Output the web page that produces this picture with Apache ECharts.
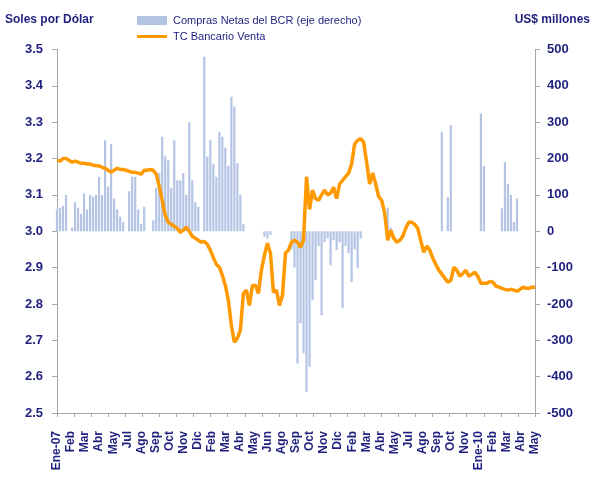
<!DOCTYPE html>
<html><head><meta charset="utf-8">
<script src="https://cdn.jsdelivr.net/npm/echarts@6/dist/echarts.min.js"></script>
<style>html,body{margin:0;padding:0;background:#fff}#c{width:597px;height:479px}</style>
</head><body><div id="c"></div>
<script>
// Month tick labels along the bottom axis
const monthLabels = ['Ene-07','Feb','Mar','Abr','May','Jul','Ago','Sep','Oct','Nov','Dic','Feb','Mar','Abr','May','Jun','Ago','Sep','Oct','Nov','Dic','Feb','Mar','Abr','May','Jul','Ago','Sep','Oct','Nov','Ene-10','Feb','Mar','Abr','May'];

// TC Bancario Venta (Soles por Dólar), roughly weekly readings
const rate = [
3.195,3.193,3.200,3.200,3.195,3.190,3.193,3.190,3.187,3.187,
3.185,3.185,3.182,3.180,3.180,3.176,3.173,3.168,3.162,3.168,
3.173,3.170,3.170,3.168,3.165,3.162,3.162,3.160,3.157,3.168,
3.168,3.170,3.168,3.157,3.124,3.085,3.044,3.025,3.019,3.014,
3.008,2.997,3.003,3.011,3.000,2.986,2.981,2.975,2.970,2.972,
2.964,2.948,2.928,2.909,2.901,2.879,2.851,2.810,2.741,2.695,
2.706,2.728,2.829,2.838,2.796,2.851,2.851,2.829,2.893,2.934,
2.967,2.940,2.832,2.838,2.796,2.824,2.940,2.948,2.970,2.975,
2.970,2.956,2.975,3.150,3.060,3.113,3.090,3.085,3.100,3.113,
3.100,3.105,3.121,3.090,3.130,3.140,3.150,3.160,3.185,3.240,
3.250,3.255,3.245,3.190,3.130,3.160,3.130,3.095,3.085,3.050,
2.975,3.003,2.981,2.970,2.975,2.986,3.008,3.025,3.025,3.019,
3.008,2.975,2.942,2.959,2.948,2.926,2.909,2.893,2.882,2.871,
2.860,2.865,2.901,2.893,2.876,2.884,2.893,2.876,2.882,2.887,
2.876,2.857,2.857,2.857,2.862,2.860,2.849,2.846,2.843,2.840,
2.838,2.840,2.838,2.835,2.840,2.846,2.843,2.843,2.846,2.846
];

// Compras Netas del BCR (US$ millones, eje derecho)
const purchases = [
60,65,70,100,0,10,80,65,48,104,
60,100,95,100,150,100,250,123,240,90,
60,40,25,0,110,150,150,60,20,67,
0,0,30,120,160,260,206,195,120,250,
140,140,160,100,300,140,80,67,0,480,
205,250,186,150,273,260,230,180,370,343,
187,100,20,0,0,0,0,0,0,-15,
-20,-10,0,0,0,0,0,0,-50,-100,
-364,-253,-336,-442,-373,-190,-135,-40,-231,-30,
-20,-94,-25,-52,-30,-212,-40,-60,-140,-50,
-102,-20,0,0,0,0,0,0,0,0,
65,10,0,0,0,0,0,0,0,0,
0,0,0,0,0,0,0,0,273,0,
94,292,0,0,0,0,0,0,0,0,
0,324,180,0,0,0,0,0,63,190,
130,100,25,90,0,0,0,0,0,0
];

const tickCount = 29;

const navy = '#1F1F7F';
const axisGray = '#A6A6A6';
const font = 'Liberation Sans, Arial, sans-serif';

const chart = echarts.init(document.getElementById('c'), null, {renderer: 'canvas'});
chart.setOption({
  animation: false,
  backgroundColor: '#fff',
  textStyle: {fontFamily: font},
  title: [
    {text: 'Soles por Dólar', left: 5, top: 14, padding: 0,
     textStyle: {fontSize: 12, fontWeight: 'bold', color: navy, fontFamily: font}},
    {text: 'US$ millones', right: 7, top: 14, padding: 0,
     textStyle: {fontSize: 12, fontWeight: 'bold', color: navy, fontFamily: font}}
  ],
  legend: [
    {data: ['Compras Netas del BCR (eje derecho)'], left: 137, top: 15, padding: 0,
     icon: 'rect', itemWidth: 30, itemHeight: 9, itemGap: 5,
     textStyle: {fontSize: 11, color: navy, fontFamily: font, padding: [0,0,0,1]}},
    {data: ['TC Bancario Venta'], left: 137, top: 31, padding: 0,
     icon: 'rect', itemWidth: 30, itemHeight: 3, itemGap: 5,
     textStyle: {fontSize: 11, color: navy, fontFamily: font, padding: [0,0,0,1]}}
  ],
  grid: {left: 57, right: 62, top: 49.5, bottom: 66, containLabel: false},
  xAxis: [
    {type: 'value', min: 0, max: rate.length - 1, show: false},
    {type: 'category', data: monthLabels, boundaryGap: false, position: 'bottom',
     axisLine: {show: true, lineStyle: {color: axisGray, width: 1}},
     axisTick: {show: false},
     axisLabel: {interval: 0, rotate: 90, margin: 18, color: navy, fontWeight: 'bold', fontSize: 12, fontFamily: font}},
    {type: 'category', data: Array.from({length: tickCount}, () => ''), boundaryGap: false, position: 'bottom',
     axisLine: {show: false},
     axisTick: {show: true, interval: 0, length: 4, lineStyle: {color: axisGray}},
     axisLabel: {show: false}}
  ],
  yAxis: [
    {type: 'value', min: 2.5, max: 3.5, interval: 0.1, position: 'left',
     axisLine: {show: true, lineStyle: {color: axisGray}},
     axisTick: {show: true, length: 5, lineStyle: {color: axisGray}},
     splitLine: {show: false},
     axisLabel: {formatter: v => v.toFixed(1), color: navy, fontWeight: 'bold', fontSize: 13, margin: 14, fontFamily: font}},
    {type: 'value', min: -500, max: 500, interval: 100, position: 'right',
     axisLine: {show: true, lineStyle: {color: axisGray}},
     axisTick: {show: true, length: 5, lineStyle: {color: axisGray}},
     splitLine: {show: false},
     axisLabel: {color: navy, fontWeight: 'bold', fontSize: 13, margin: 12, fontFamily: font}}
  ],
  series: [
    {name: 'Compras Netas del BCR (eje derecho)', type: 'bar', xAxisIndex: 0, yAxisIndex: 1,
     data: purchases.map((v, i) => [i, v]), barWidth: 2.2,
     itemStyle: {color: '#B4C4E4'}},
    {name: 'TC Bancario Venta', type: 'line', xAxisIndex: 0, yAxisIndex: 0,
     data: rate.map((v, i) => [i, v]), symbol: 'none', smooth: false,
     lineStyle: {color: '#FF9900', width: 3.5}, itemStyle: {color: '#FF9900'}}
  ]
});
</script>
</body></html>
